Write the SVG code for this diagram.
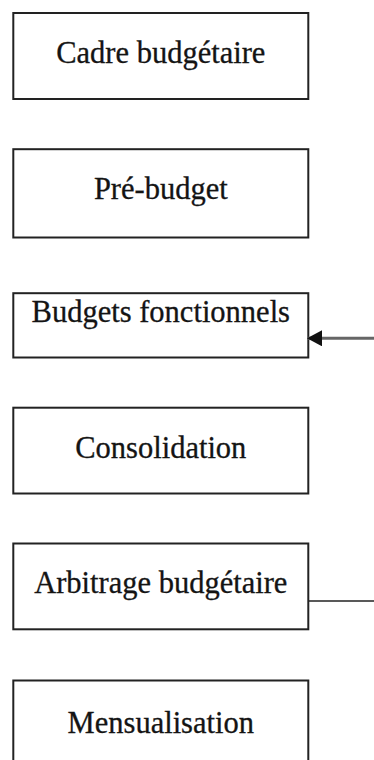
<svg xmlns="http://www.w3.org/2000/svg" width="374" height="760" viewBox="0 0 374 760">
  <style>
    .box { fill: #ffffff; stroke: #222222; stroke-width: 2; }
    .label { font-family: "Liberation Serif", "Times New Roman", serif; font-size: 30.5px; fill: #141414; stroke: #141414; stroke-width: 0.3; text-anchor: middle; }
    .feed { stroke: #666666; stroke-width: 3; fill: none; }
    .out { stroke: #222222; stroke-width: 1.5; fill: none; }
  </style>
  <defs>
    <marker id="head" markerUnits="userSpaceOnUse" markerWidth="16" markerHeight="16" refX="15" refY="8" orient="auto">
      <path d="M0,0 L15,8 L0,16 Z" fill="#111111"/>
    </marker>
  </defs>
  <rect width="374" height="760" fill="#ffffff"/>

  <g id="cadre">
    <rect class="box" x="13.3" y="13" width="295" height="86"/>
    <text class="label" x="160.8" y="63.3">Cadre budgétaire</text>
  </g>
  <g id="pre-budget">
    <rect class="box" x="13.3" y="149.2" width="295" height="88.3"/>
    <text class="label" x="160.8" y="199.3">Pré-budget</text>
  </g>
  <g id="budgets-fonctionnels">
    <rect class="box" x="13.3" y="293.2" width="295" height="64.3"/>
    <text class="label" x="160.8" y="321.7">Budgets fonctionnels</text>
  </g>
  <g id="consolidation">
    <rect class="box" x="13.3" y="407.7" width="295" height="85.8"/>
    <text class="label" x="160.8" y="458.3">Consolidation</text>
  </g>
  <g id="arbitrage">
    <rect class="box" x="13.3" y="543.5" width="295" height="85.8"/>
    <text class="label" x="160.8" y="593.3">Arbitrage budgétaire</text>
  </g>
  <g id="mensualisation">
    <rect class="box" x="13.3" y="680.5" width="295" height="100"/>
    <text class="label" x="160.8" y="732.7">Mensualisation</text>
  </g>

  <g id="connectors">
    <line class="feed" x1="374" y1="338.3" x2="307" y2="338.3" marker-end="url(#head)"/>
    <line class="out" x1="309" y1="601" x2="374" y2="601"/>
  </g>
</svg>
